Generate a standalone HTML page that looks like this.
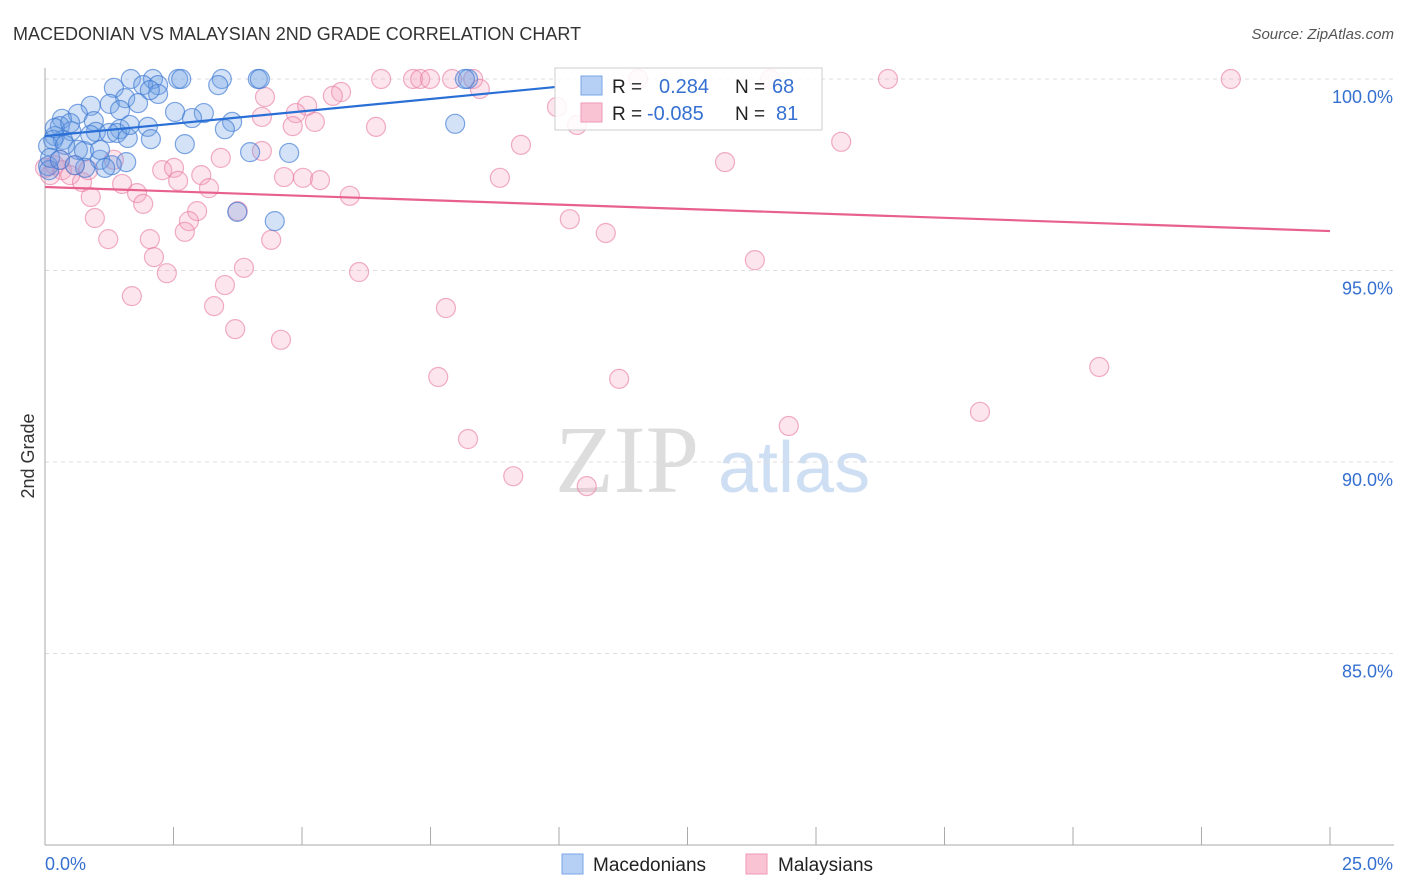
<!DOCTYPE html>
<html><head><meta charset="utf-8"><style>
html,body{margin:0;padding:0;background:#fff;width:1406px;height:892px;overflow:hidden;font-family:"Liberation Sans",sans-serif;}
</style></head><body>
<svg width="1406" height="892" xmlns="http://www.w3.org/2000/svg" id="svg">
<text x="13" y="40" font-size="18" fill="#333" font-family="Liberation Sans, sans-serif">MACEDONIAN VS MALAYSIAN 2ND GRADE CORRELATION CHART</text>
<text x="1394" y="39" font-size="15" fill="#555" text-anchor="end" font-style="italic">Source: ZipAtlas.com</text>
<text transform="translate(34,456) rotate(-90)" font-size="18" fill="#333" text-anchor="middle">2nd Grade</text>
<g>
<text x="555" y="492" font-size="96" fill="#ddd" font-family="Liberation Serif, serif">ZIP</text>
<text x="718" y="492" font-size="72" fill="#cfdff3">atlas</text>
</g>
<g id="grid"></g><g id="axes"></g><g id="pts"></g><g id="trend"></g>
<g>
<rect x="555" y="68" width="267" height="62" fill="#fff" fill-opacity="0.85" stroke="#ccc"/>
<rect x="581" y="76" width="21" height="19" fill="#b5cff5" stroke="#7aa6e6"/>
<rect x="581" y="103" width="21" height="19" fill="#f9c3d4" stroke="#ee9ab6"/>
<text x="612" y="93" font-size="19" fill="#222">R =</text><text x="659" y="93" font-size="20" fill="#3570d0">0.284</text>
<text x="735" y="93" font-size="19" fill="#222">N =</text><text x="772" y="93" font-size="20" fill="#3570d0">68</text>
<text x="612" y="120" font-size="19" fill="#222">R =</text><text x="647" y="120" font-size="20" fill="#3570d0">-0.085</text>
<text x="735" y="120" font-size="19" fill="#222">N =</text><text x="776" y="120" font-size="20" fill="#3570d0">81</text>
</g>
<g>
<rect x="562" y="854" width="21" height="20" fill="#b5cff5" stroke="#7aa6e6"/>
<text x="593" y="871" font-size="19" fill="#222">Macedonians</text>
<rect x="746" y="854" width="21" height="20" fill="#f9c3d4" stroke="#ee9ab6"/>
<text x="778" y="871" font-size="19" fill="#222">Malaysians</text>
</g>
</svg>
<script>
const xTicks=[0,2.5,5,7.5,10,12.5,15,17.5,20,22.5,25];
const yTicks=[100,95,90,85];
const yTickLabels=["100.0%","95.0%","90.0%","85.0%"];
const xLabels=["0.0%","25.0%"];
const blueX=[1.67,2.10,2.59,2.65,3.44,4.14,4.18,8.23,8.17,1.91,2.20,3.37,1.34,2.20,1.56,1.81,0.89,1.26,0.64,2.53,3.09,2.86,0.33,0.95,3.64,0.29,2.00,1.46,0.51,3.50,7.98,0.19,0.99,1.25,1.40,1.61,2.06,2.72,0.35,0.64,0.06,0.76,3.99,4.75,1.07,1.58,1.30,0.78,1.17,0.06,3.74,4.47,0.16,0.39,0.08,1.07,0.19,0.49,0.10,0.88,1.46,2.04,0.29,0.58,1.65];
const blueY=[100,100,100,100,100,100,100,100,100,99.84,99.84,99.84,99.77,99.61,99.50,99.37,99.30,99.35,99.09,99.14,99.11,98.98,98.96,98.90,98.88,98.77,98.75,98.69,98.64,98.69,98.83,98.51,98.62,98.59,98.59,98.46,98.43,98.30,98.41,98.15,98.25,98.12,98.09,98.07,97.89,97.83,97.75,97.68,97.68,97.73,96.53,96.29,98.41,98.28,97.62,98.15,98.72,98.85,97.94,98.54,99.19,99.71,97.89,97.75,98.80];
const pinkX=[6.54,7.16,7.30,7.49,7.92,8.33,11.54,16.40,23.07,14.11,8.46,5.76,5.60,4.28,5.10,4.88,4.22,9.96,5.25,4.82,6.44,10.35,4.22,9.26,15.49,13.23,3.42,1.34,2.28,2.51,3.04,4.65,5.02,5.35,8.85,2.59,1.50,3.19,1.79,5.93,0.89,1.91,2.96,3.75,0.97,2.80,10.21,2.72,10.91,1.23,2.04,4.40,2.12,13.81,3.87,2.37,6.11,3.50,1.69,3.29,7.80,3.70,4.59,20.51,7.65,11.17,18.19,14.47,8.23,9.11,10.54,0.19,0.33,0.49,0.72,0.10,0.29,0.58,0.84,0.0];
const pinkY=[100,100,100,100,100,100,100,100,100,100,99.74,99.66,99.56,99.53,99.30,99.11,99.01,99.27,98.88,98.77,98.75,98.80,98.12,98.28,98.36,97.83,97.94,97.89,97.62,97.68,97.49,97.44,97.42,97.36,97.42,97.34,97.26,97.15,97.02,96.95,96.92,96.74,96.55,96.55,96.37,96.29,96.34,96.01,95.98,95.82,95.82,95.80,95.35,95.27,95.07,94.93,94.96,94.62,94.33,94.07,94.02,93.47,93.19,92.48,92.22,92.17,91.31,90.94,90.60,89.63,89.37,97.75,97.62,97.49,97.31,97.49,97.89,97.75,97.62,97.68];
const blueTrend=[[0,98.51],[9.92,99.79]];
const pinkTrend=[[0,97.18],[25,96.03]];
const NS="http://www.w3.org/2000/svg";
const X=v=>45+v*51.4;
const Y=v=>79+(100-v)*38.3;
function mk(tag,attrs,parent){const e=document.createElementNS(NS,tag);for(const k in attrs)e.setAttribute(k,attrs[k]);document.getElementById(parent).appendChild(e);return e;}
yTicks.forEach((t,i)=>{
 const l=mk('line',{x1:45,x2:1394,y1:Y(t),y2:Y(t),stroke:'#ddd','stroke-dasharray':'4,4'},'grid');
 
 
 const tx=mk('text',{x:1393,y:Y(t)+24,'font-size':18,fill:'#3570d0','text-anchor':'end'},'axes');
 tx.textContent=yTickLabels[i];
 
 
});
const ax=mk('line',{x1:45,x2:45,y1:68,y2:845,stroke:'#aaa'},'axes');


const bx=mk('line',{x1:45,x2:1394,y1:845,y2:845,stroke:'#aaa'},'axes');


xTicks.forEach(t=>{
 const l=mk('line',{x1:X(t),x2:X(t),y1:827,y2:845,stroke:'#aaa'},'axes');
 
 
});
const xl0=mk('text',{x:45,y:870,'font-size':18,fill:'#3570d0'},'axes');xl0.textContent=xLabels[0];


const xl1=mk('text',{x:1393,y:870,'font-size':18,fill:'#3570d0','text-anchor':'end'},'axes');xl1.textContent=xLabels[1];


pinkX.forEach((v,i)=>{
 const c=mk('circle',{cx:X(v),cy:Y(pinkY[i]),r:9.5,fill:'rgba(244,160,190,0.28)',stroke:'rgba(232,120,160,0.6)','stroke-width':1.2},'pts');
 
 
});
blueX.forEach((v,i)=>{
 const c=mk('circle',{cx:X(v),cy:Y(blueY[i]),r:9.5,fill:'rgba(110,160,230,0.3)',stroke:'rgba(60,120,210,0.65)','stroke-width':1.2},'pts');
 
 
});
const bt=mk('line',{x1:X(blueTrend[0][0]),y1:Y(blueTrend[0][1]),x2:X(blueTrend[1][0]),y2:Y(blueTrend[1][1]),stroke:'#2a6fd6','stroke-width':2.2},'trend');


const pt=mk('line',{x1:X(pinkTrend[0][0]),y1:Y(pinkTrend[0][1]),x2:X(pinkTrend[1][0]),y2:Y(pinkTrend[1][1]),stroke:'#e8608c','stroke-width':2.2},'trend');


</script>
</body></html>
